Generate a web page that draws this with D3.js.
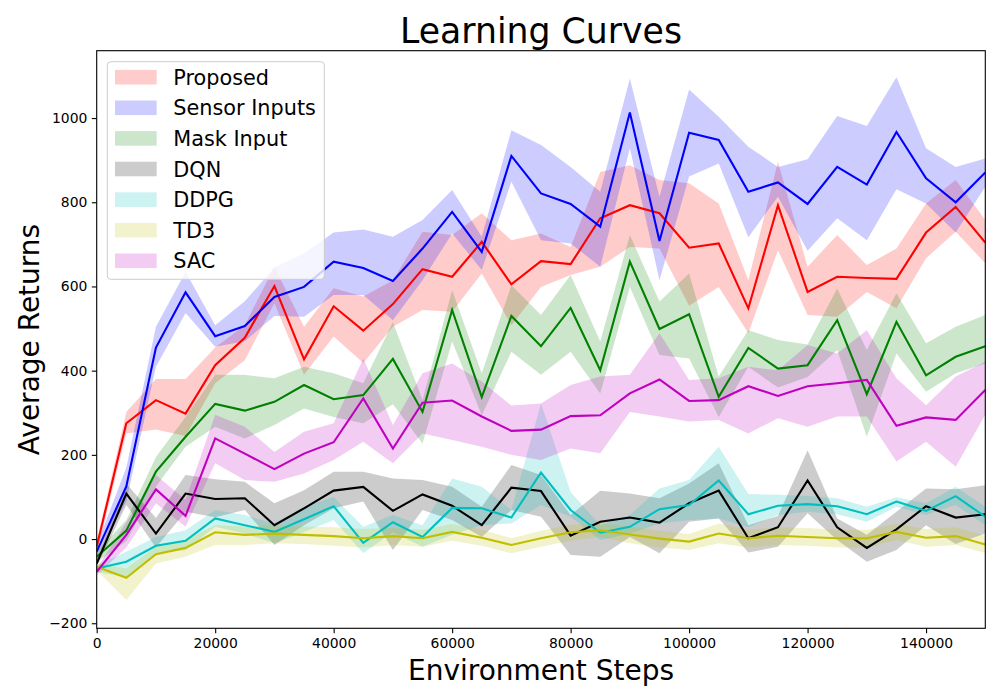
<!DOCTYPE html>
<html><head><meta charset="utf-8">
<script src="https://cdn.jsdelivr.net/npm/d3@7/dist/d3.min.js"></script>
<style>html,body{margin:0;padding:0;background:#fff;}svg{display:block;font-family:"DejaVu Sans",sans-serif;}</style>
</head><body>
<svg id="chart" width="1000" height="700"></svg>
<script>
const steps = [0,5000,10000,15000,20000,25000,30000,35000,40000,45000,50000,55000,60000,65000,70000,75000,80000,85000,90000,95000,100000,105000,110000,115000,120000,125000,130000,135000,140000,145000,150000];

const proposedMean = [-18,275,330,298,413,478,601,427,553,495,558,641,623,706,605,660,653,762,793,774,692,702,548,793,587,623,620,618,728,789,704];
const proposedHi   = [-5,302,380,380,455,508,647,504,596,576,615,730,722,774,710,726,694,872,888,853,845,797,615,896,647,722,651,690,797,853,758];
const proposedLo   = [-35,251,260,245,370,425,560,390,481,418,504,544,540,631,508,599,627,647,694,690,554,599,489,686,532,528,587,548,667,730,655];

const sensorMean = [-30,125,455,586,482,506,575,599,659,644,613,690,777,682,910,821,796,742,1013,708,965,948,825,847,796,884,842,967,857,800,871];
const sensorHi   = [-15,170,504,635,508,565,645,679,728,735,718,758,829,718,971,936,884,825,1094,813,1068,1003,932,884,902,1005,981,1097,928,884,904];
const sensorLo   = [-45,90,409,537,457,470,530,528,580,580,520,615,726,639,849,710,702,647,928,615,861,892,717,813,685,762,710,831,797,728,837];

const maskMean = [-42,20,160,243,321,305,326,366,332,342,428,302,544,337,530,458,549,401,659,499,534,338,454,405,413,520,344,516,389,433,458];
const maskHi   = [-30,45,195,290,390,390,382,409,394,370,515,330,591,394,603,532,627,469,722,564,631,386,496,473,462,595,449,584,465,504,532];
const maskLo   = [-55,-5,125,219,267,239,271,310,290,275,320,227,469,294,445,390,445,346,599,437,429,290,409,360,385,449,243,441,350,394,417];

const dqnMean = [-58,108,13,108,95,97,33,73,115,124,67,106,79,33,122,114,8,41,51,39,85,115,2,28,139,28,-21,23,78,51,59];
const dqnHi   = [-50,132,50,152,142,136,85,116,160,160,144,140,124,77,176,152,57,115,108,97,132,180,33,55,211,49,10,65,120,118,128];
const dqnLo   = [-66,81,-20,65,52,69,-14,33,73,89,-26,69,45,5,69,53,-38,-42,5,-34,41,49,-32,-18,61,-2,-54,-26,33,-12,13];

const ddpgMean = [-70,-54,-16,-4,49,33,17,47,78,-9,40,5,74,73,51,158,69,15,29,71,81,139,59,79,83,78,59,89,67,102,53];
const ddpgHi   = [-62,-30,5,21,69,57,37,77,100,29,57,33,144,124,69,322,112,33,57,120,140,219,107,105,102,97,77,99,85,124,77];
const ddpgLo   = [-78,-90,-34,-26,29,13,-10,17,45,-34,17,-18,10,33,37,81,53,-2,13,37,45,49,28,57,65,59,41,77,57,81,33];

const td3Mean = [-66,-92,-36,-21,16,10,13,10,7,2,7,2,17,3,-14,2,16,21,11,1,-6,13,2,8,5,2,2,17,3,7,-13];
const td3Hi   = [-58,-70,-18,-2,33,30,32,30,28,24,26,22,36,22,2,20,34,37,30,20,12,37,22,28,26,22,22,36,24,28,8];
const td3Lo   = [-74,-145,-58,-42,-14,-14,-10,-12,-16,-20,-14,-18,-4,-16,-34,-18,-4,5,-10,-20,-26,-10,-20,-14,-16,-20,-20,-2,-18,-14,-33];

const sacMean = [-78,10,118,55,239,203,166,203,230,334,215,324,329,291,257,260,292,294,346,379,328,330,363,340,363,370,378,269,289,283,354];
const sacHi   = [-70,40,152,93,295,267,207,255,275,429,271,394,417,374,317,322,366,386,390,489,378,382,409,401,461,441,496,382,318,386,421];
const sacLo   = [-86,-20,85,29,180,140,136,156,188,231,180,251,235,219,200,188,215,204,302,291,279,283,251,287,267,291,291,184,231,172,295];

const seriesNames = ["Proposed","Sensor Inputs","Mask Input","DQN","DDPG","TD3","SAC"];
const seriesColors = ["#ff0000","#0000ff","#008000","#000000","#00bfbf","#bfbf00","#bf00bf"];
const xTicks = [0,20000,40000,60000,80000,100000,120000,140000];
const yTicks = [-200,0,200,400,600,800,1000];

const series = [
  {mean:proposedMean,hi:proposedHi,lo:proposedLo},
  {mean:sensorMean,hi:sensorHi,lo:sensorLo},
  {mean:maskMean,hi:maskHi,lo:maskLo},
  {mean:dqnMean,hi:dqnHi,lo:dqnLo},
  {mean:ddpgMean,hi:ddpgHi,lo:ddpgLo},
  {mean:td3Mean,hi:td3Hi,lo:td3Lo},
  {mean:sacMean,hi:sacHi,lo:sacLo}
].map((s,i)=>({...s,name:seriesNames[i],color:seriesColors[i]}));

const L=96.7,R=985.3,T=50.7,B=628.3;
const svg=d3.select("#chart");
const x=d3.scaleLinear().domain([0,150000]).range([L,R]);
const y=d3.scaleLinear().domain([-212,1160]).range([B,T]);

svg.append("clipPath").attr("id","clip").append("rect").attr("x",L).attr("y",T).attr("width",R-L).attr("height",B-T);
const plot=svg.append("g").attr("clip-path","url(#clip)");

const area=d3.area().x((d,i)=>x(steps[i])).y0(d=>y(d[0])).y1(d=>y(d[1]));
const line=d3.line().x((d,i)=>x(steps[i])).y(d=>y(d));

series.forEach(s=>{
  plot.append("path").datum(s.lo.map((v,i)=>[v,s.hi[i]]))
    .attr("d",area).attr("fill",s.color).attr("fill-opacity",0.2).attr("stroke","none");
});
series.forEach(s=>{
  plot.append("path").datum(s.mean).attr("d",line)
    .attr("fill","none").attr("stroke",s.color).attr("stroke-width",2.1).attr("stroke-linejoin","miter");
});

// axes
const xAxis=d3.axisBottom(x).tickValues(xTicks).tickSize(4.9).tickPadding(4.5).tickFormat(d3.format("d"));
const yAxis=d3.axisLeft(y).tickValues(yTicks).tickSize(4.9).tickPadding(4.5).tickFormat(d=>d<0?"\u2212"+Math.abs(d):String(d));
const gx=svg.append("g").attr("transform",`translate(0,${B})`).call(xAxis);
const gy=svg.append("g").attr("transform",`translate(${L},0)`).call(yAxis);
[gx,gy].forEach(g=>{
  g.select(".domain").remove();
  g.selectAll("text").attr("font-size","13.9px").attr("font-family","DejaVu Sans").attr("fill","#000");
  g.selectAll("line").attr("stroke","#000").attr("stroke-width",1.1);
});

svg.append("rect").attr("x",L).attr("y",T).attr("width",R-L).attr("height",B-T)
  .attr("fill","none").attr("stroke","#000").attr("stroke-width",1.1);

// title & labels
svg.append("text").attr("x",(L+R)/2).attr("y",42.5).attr("text-anchor","middle")
  .attr("font-size","34.7px").text("Learning Curves");
svg.append("text").attr("x",(L+R)/2).attr("y",680).attr("text-anchor","middle")
  .attr("font-size","28px").text("Environment Steps");
svg.append("text").attr("transform",`translate(39,${(T+B)/2}) rotate(-90)`).attr("text-anchor","middle")
  .attr("font-size","28px").text("Average Returns");

// legend
const lg=svg.append("g");
lg.append("rect").attr("x",107.3).attr("y",61.7).attr("width",217).attr("height",217.6)
  .attr("rx",3.5).attr("fill","#fff").attr("fill-opacity",0.8).attr("stroke","#cccccc").attr("stroke-width",1);
series.forEach((s,i)=>{
  const cy=77.2+i*30.6;
  lg.append("rect").attr("x",115).attr("y",cy-7.3).attr("width",41.7).attr("height",14.6)
    .attr("fill",s.color).attr("fill-opacity",0.2);
  lg.append("text").attr("x",173.3).attr("y",cy+7.5).attr("font-size","20.8px").text(s.name);
});
</script>
</body></html>
